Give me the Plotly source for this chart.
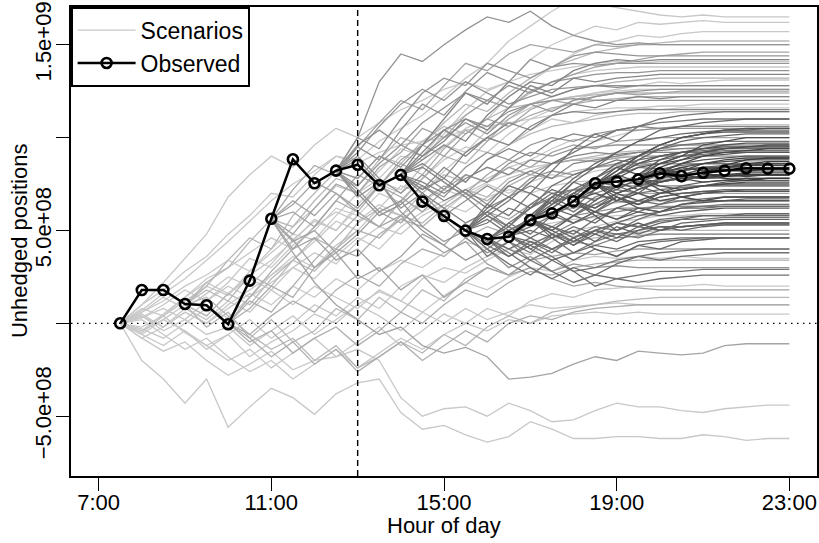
import plotly.graph_objects as go

# ---------------- data ----------------
# time grid: half-hour steps from 7:30 to 23:00
t_first = 7.5
t_step = 0.5

# observed unhedged positions (units of 1e8)
observed = [0.00, 1.79, 1.79, 1.04, 0.97, -0.05, 2.30, 5.63, 8.83, 7.54, 8.22, 8.54,
            7.43, 7.99, 6.55, 5.78, 4.99, 4.54, 4.66, 5.56, 5.92, 6.57, 7.54, 7.63,
            7.75, 8.08, 7.93, 8.11, 8.22, 8.35, 8.33, 8.33]

# scenario paths (units of 1e7), grouped by the hour at which they start
paths_0730 = [
    [0, 10, 18, 28, 36, 48, 58, 70, 68, 80, 90, 88, 98, 105, 112, 122, 132, 140, 152, 160, 168, 175, 172, 170, 168, 166, 165, 166, 165, 165, 165, 165],
    [0, -5, 4, 12, 20, 15, 28, 38, 48, 45, 58, 70, 78, 90, 88, 102, 115, 125, 130, 142, 150, 155, 160, 158, 162, 161, 162, 163, 162, 162, 162, 162],
    [0, 5, -2, 8, 16, 25, 20, 32, 45, 55, 50, 62, 75, 70, 85, 95, 105, 110, 122, 130, 138, 145, 150, 152, 155, 154, 156, 157, 157, 157, 157, 157],
    [0, 3, 10, 18, 12, 22, 35, 30, 42, 50, 62, 58, 70, 65, 78, 88, 95, 92, 102, 110, 115, 120, 124, 126, 128, 130, 129, 130, 131, 131, 131, 131],
    [0, -3, -8, 0, 8, 3, 14, 22, 30, 24, 36, 46, 40, 52, 60, 66, 72, 78, 84, 88, 94, 99, 98, 101, 104, 105, 106, 106, 107, 107, 107, 107],
    [0, -2, 4, -5, -12, -6, -18, -10, -4, 5, 0, 10, 17, 12, 24, 30, 27, 34, 40, 37, 44, 50, 52, 55, 56, 58, 58, 59, 59, 59, 59, 59],
    [0, -20, -30, -43, -30, -56, -45, -35, -40, -49, -38, -32, -30, -48, -57, -55, -60, -64, -61, -53, -57, -62, -62, -61, -61, -62, -62, -60, -61, -63, -62, -62],
    [0, -8, -15, -10, -20, -28, -22, -15, -25, -20, -18, -14, -20, -40, -50, -46, -45, -50, -43, -47, -53, -52, -47, -43, -45, -45, -47, -48, -46, -45, -44, -44],
    [0, 6, 14, 8, 2, 12, 6, 18, 10, 20, 14, 8, 18, 12, 6, 15, 22, 18, 25, 30, 28, 34, 36, 35, 36, 35, 36, 35, 35, 35, 35, 35],
    [0, -6, 2, -4, -12, -20, -14, -24, -16, -8, -18, -10, -2, -12, -4, 5, 0, 8, 4, 12, 16, 14, 18, 19, 20, 20, 20, 21, 20, 20, 20, 20],
    [0, 4, -4, 2, -6, -2, -12, -4, 4, -6, 2, 10, 4, -4, 6, 0, 8, 2, 6, 10, 8, 9, 10, 11, 10, 10, 10, 10, 10, 10, 10, 10],
    [0, 7, 16, 24, 34, 44, 55, 66, 75, 82, 90, 86, 92, 96, 98, 100, 104, 106, 108, 110, 112, 114, 115, 116, 116, 117, 117, 118, 118, 118, 118, 118],
    [0, -4, 5, 14, 24, 30, 38, 46, 40, 52, 60, 55, 64, 58, 66, 72, 68, 75, 70, 76, 80, 78, 82, 84, 85, 86, 86, 86, 87, 87, 87, 87],
    [0, 2, -6, -14, -8, -18, -26, -20, -30, -22, -14, -24, -16, -8, -14, -6, 0, -4, 2, 0, 4, 5, 6, 5, 6, 5, 5, 5, 5, 5, 5, 5],
    [0, -8, -2, 6, 0, 10, 18, 26, 34, 44, 55, 50, 62, 74, 70, 82, 92, 100, 96, 104, 110, 108, 112, 114, 116, 115, 116, 116, 116, 116, 116, 116],
    [0, 10, 22, 35, 48, 68, 80, 90, 84, 96, 105, 100, 108, 115, 120, 126, 130, 126, 130, 134, 136, 138, 140, 141, 140, 141, 141, 141, 141, 141, 141, 141],
    [0, 6, 12, 20, 26, 34, 28, 40, 52, 62, 74, 70, 82, 94, 90, 104, 112, 120, 116, 124, 130, 134, 136, 137, 138, 138, 138, 138, 138, 138, 138, 138],
    [0, -4, 2, 10, 4, 16, 24, 18, 30, 38, 32, 44, 52, 48, 58, 64, 60, 68, 72, 70, 74, 76, 77, 78, 78, 78, 78, 78, 78, 78, 78, 78],
    [0, 3, 8, 2, 12, 20, 14, 26, 36, 30, 42, 50, 46, 56, 64, 60, 70, 76, 80, 84, 86, 88, 89, 90, 90, 90, 90, 90, 90, 90, 90, 90],
    [0, -6, -12, -4, -14, -6, 2, -8, 0, 10, 4, 14, 8, 20, 26, 22, 30, 36, 40, 44, 46, 47, 48, 48, 48, 48, 48, 48, 48, 48, 48, 48],
    [0, 8, 4, 14, 22, 16, 26, 34, 44, 56, 50, 64, 76, 72, 84, 96, 92, 104, 110, 116, 120, 122, 124, 125, 126, 126, 126, 126, 126, 126, 126, 126],
    [0, 4, -2, 6, 0, 8, 16, 10, 20, 14, 24, 18, 28, 34, 30, 38, 44, 40, 48, 52, 54, 56, 57, 58, 58, 58, 58, 58, 58, 58, 58, 58],
]
paths_0900 = [
    [10, 22, 30, 44, 56, 52, 66, 78, 74, 88, 100, 96, 108, 118, 114, 124, 132, 138, 142, 146, 148, 150, 151, 152, 152, 152, 152, 152, 152],
    [10, 4, 16, 10, 24, 34, 28, 40, 50, 46, 58, 54, 64, 72, 68, 78, 82, 86, 88, 90, 92, 93, 94, 94, 95, 95, 95, 95, 95],
    [10, -2, 6, -8, 2, -10, -4, 8, 2, 14, 6, 18, 12, 24, 30, 26, 34, 40, 44, 46, 48, 49, 50, 50, 50, 50, 50, 50, 50],
    [10, 18, 12, 26, 20, 34, 46, 40, 54, 62, 58, 70, 80, 76, 88, 96, 102, 106, 108, 110, 112, 113, 113, 114, 114, 114, 114, 114, 114],
    [10, 14, 4, -6, -14, -8, -20, -12, -24, -18, -10, -16, -6, -12, -2, 4, 0, 6, 8, 10, 12, 13, 14, 14, 14, 14, 14, 14, 14],
    [10, 20, 34, 46, 40, 58, 70, 82, 78, 90, 86, 98, 106, 102, 110, 116, 118, 120, 122, 123, 124, 124, 124, 124, 124, 124, 124, 124, 124],
]
paths_1000 = [
    [0, 14, 28, 40, 52, 66, 60, 74, 86, 80, 94, 104, 98, 110, 118, 122, 126, 128, 130, 131, 132, 132, 132, 132, 132, 132, 132],
    [0, -10, -4, -16, -8, -2, -12, -4, 6, 0, 10, 18, 14, 22, 28, 26, 30, 32, 33, 34, 34, 34, 34, 34, 34, 34, 34],
    [0, 8, 20, 14, 30, 40, 36, 48, 56, 52, 62, 70, 66, 74, 80, 78, 82, 84, 85, 86, 86, 86, 86, 86, 86, 86, 86],
    [0, -6, 4, 12, 6, 18, 26, 20, 32, 40, 36, 46, 52, 48, 56, 60, 62, 64, 65, 66, 66, 66, 66, 66, 66, 66, 66],
    [0, 12, 6, 20, 34, 46, 58, 52, 66, 78, 90, 86, 98, 106, 112, 116, 118, 120, 121, 122, 122, 122, 122, 122, 122, 122, 122],
    [0, -8, -18, -10, -22, -14, -26, -18, -10, -20, -12, -4, -10, 0, 4, 2, 6, 8, 9, 10, 10, 10, 10, 10, 10, 10, 10],
]
paths_1100 = [
    [56, 72, 85, 80, 95, 108, 120, 115, 128, 140, 136, 145, 150, 148, 146, 150, 149, 150, 150, 150, 150, 150, 150, 150, 150],
    [56, 48, 62, 75, 70, 84, 92, 105, 100, 112, 120, 116, 125, 130, 134, 138, 140, 142, 144, 145, 146, 146, 146, 146, 146],
    [56, 60, 52, 66, 80, 74, 88, 96, 90, 102, 110, 106, 115, 120, 118, 122, 124, 123, 124, 125, 125, 125, 125, 125, 125],
    [56, 44, 50, 38, 48, 60, 54, 66, 74, 70, 80, 88, 84, 92, 96, 94, 98, 99, 100, 100, 100, 100, 100, 100, 100],
    [56, 66, 58, 70, 62, 74, 68, 60, 72, 80, 76, 84, 80, 86, 88, 87, 89, 90, 90, 90, 90, 90, 90, 90, 90],
    [56, 40, 46, 34, 40, 28, 36, 48, 42, 54, 60, 56, 64, 66, 68, 67, 69, 70, 70, 70, 70, 70, 70, 70, 70],
    [56, 45, 30, 38, 24, 30, 18, 26, 14, 22, 30, 26, 34, 36, 38, 37, 39, 40, 40, 40, 40, 40, 40, 40, 40],
    [56, 38, 22, 10, 2, -6, -2, -12, -16, -13, -18, -30, -29, -27, -22, -18, -20, -15, -16, -17, -16, -12, -11, -11, -11],
    [56, 64, 76, 70, 60, 52, 58, 46, 38, 44, 32, 26, 30, 24, 20, 22, 20, 19, 18, 18, 18, 18, 18, 18, 18],
]
paths_1230 = [
    [82, 100, 130, 145, 141, 150, 158, 165, 162, 168, 160, 155, 152, 150, 151, 150, 150, 150, 150, 150, 150, 150],
    [82, 95, 88, 104, 118, 112, 125, 135, 130, 142, 138, 144, 146, 145, 144, 144, 144, 144, 144, 144, 144, 144],
    [82, 74, 86, 96, 90, 100, 108, 102, 112, 118, 114, 120, 122, 124, 125, 126, 126, 126, 126, 126, 126, 126],
    [82, 90, 78, 70, 80, 72, 84, 92, 88, 96, 100, 98, 102, 104, 104, 105, 105, 105, 105, 105, 105, 105],
    [82, 68, 76, 62, 70, 58, 66, 74, 68, 78, 82, 80, 84, 86, 85, 86, 86, 86, 86, 86, 86, 86],
    [82, 72, 60, 66, 52, 44, 50, 40, 48, 56, 52, 58, 60, 62, 62, 63, 63, 63, 63, 63, 63, 63],
    [82, 88, 76, 60, 50, 42, 34, 40, 30, 36, 28, 32, 30, 31, 30, 30, 30, 30, 30, 30, 30, 30],
    [82, 96, 104, 96, 108, 116, 124, 120, 128, 124, 130, 132, 134, 135, 135, 136, 136, 136, 136, 136, 136, 136],
    [82, 100, 94, 110, 124, 132, 128, 140, 136, 132, 138, 140, 139, 140, 140, 140, 140, 140, 140, 140, 140, 140],
    [82, 92, 106, 118, 126, 120, 130, 124, 118, 122, 126, 127, 128, 128, 128, 128, 128, 128, 128, 128, 128, 128],
    [82, 78, 90, 84, 96, 104, 110, 106, 114, 118, 120, 121, 120, 120, 120, 120, 120, 120, 120, 120, 120, 120],
    [82, 70, 58, 64, 74, 68, 80, 76, 86, 92, 90, 94, 95, 96, 96, 96, 96, 96, 96, 96, 96, 96],
]
paths_1400 = [
    [80, 92, 104, 98, 112, 122, 130, 128, 136, 140, 142, 141, 142, 142, 142, 142, 142, 142, 142],
    [80, 86, 78, 92, 100, 96, 106, 112, 118, 116, 120, 122, 121, 122, 122, 122, 122, 122, 122],
    [80, 72, 84, 76, 88, 94, 90, 98, 102, 100, 104, 106, 105, 106, 106, 106, 106, 106, 106],
    [80, 74, 66, 72, 64, 76, 82, 78, 86, 88, 90, 92, 93, 94, 94, 94, 94, 94, 94],
    [80, 70, 62, 54, 60, 52, 62, 68, 72, 70, 74, 76, 77, 78, 78, 78, 78, 78, 78],
    [80, 84, 76, 68, 58, 50, 56, 48, 54, 58, 60, 62, 62, 63, 63, 63, 63, 63, 63],
    [80, 66, 56, 46, 38, 44, 34, 40, 44, 42, 46, 47, 48, 48, 48, 48, 48, 48, 48],
    [80, 90, 98, 110, 104, 116, 128, 124, 132, 130, 132, 133, 134, 134, 134, 134, 134, 134, 134],
    [80, 96, 110, 124, 118, 130, 126, 122, 126, 128, 127, 128, 128, 128, 128, 128, 128, 128, 128],
    [80, 88, 96, 90, 100, 108, 104, 112, 114, 113, 114, 115, 115, 115, 115, 115, 115, 115, 115],
    [80, 76, 70, 78, 84, 80, 88, 86, 90, 92, 91, 92, 92, 92, 92, 92, 92, 92, 92],
    [80, 72, 78, 70, 62, 68, 74, 70, 72, 73, 74, 74, 74, 74, 74, 74, 74, 74, 74],
]
paths_1530 = [
    [50, 62, 74, 70, 82, 94, 102, 98, 106, 110, 112, 113, 114, 114, 114, 114],
    [50, 58, 52, 64, 72, 68, 78, 86, 90, 94, 96, 97, 98, 98, 98, 98],
    [50, 44, 54, 48, 58, 66, 62, 70, 74, 76, 78, 79, 80, 80, 80, 80],
    [50, 42, 36, 44, 38, 46, 52, 50, 56, 60, 62, 63, 64, 64, 64, 64],
    [50, 56, 48, 40, 46, 38, 44, 48, 46, 50, 52, 53, 54, 54, 54, 54],
    [50, 40, 32, 26, 34, 28, 30, 34, 36, 38, 39, 40, 40, 40, 40, 40],
    [50, 60, 68, 62, 74, 80, 84, 88, 86, 90, 92, 92, 93, 93, 93, 93],
    [50, 46, 40, 34, 28, 22, 26, 24, 26, 28, 28, 29, 29, 29, 29, 29],
    [50, 54, 62, 58, 66, 60, 68, 72, 70, 72, 73, 74, 74, 74, 74, 74],
    [50, 64, 58, 70, 64, 76, 72, 80, 84, 83, 85, 86, 86, 86, 86, 86],
    [50, 36, 44, 38, 48, 42, 50, 54, 52, 55, 56, 56, 57, 57, 57, 57],
    [50, 58, 66, 76, 86, 92, 98, 104, 106, 108, 109, 110, 110, 110, 110, 110],
]
paths_1600 = [
    [45, 38, 30, 24, 30, 26, 32, 36, 34, 36, 37, 38, 38, 38, 38],
    [45, 52, 46, 40, 34, 40, 36, 42, 44, 45, 46, 46, 46, 46, 46],
    [45, 40, 46, 52, 48, 56, 62, 60, 64, 66, 67, 68, 68, 68, 68],
    [45, 54, 62, 70, 66, 74, 80, 86, 88, 90, 91, 92, 92, 92, 92],
    [45, 36, 42, 36, 28, 20, 24, 22, 24, 25, 26, 26, 26, 26, 26],
    [45, 50, 56, 62, 70, 76, 74, 80, 82, 83, 84, 84, 84, 84, 84],
]
paths_1630 = [
    [47, 56, 64, 72, 78, 84, 88, 90, 92, 93, 94, 94, 94, 94],
    [47, 52, 58, 54, 60, 66, 64, 68, 70, 71, 72, 72, 72, 72],
    [47, 42, 48, 44, 50, 54, 52, 56, 57, 58, 58, 58, 58, 58],
    [47, 40, 34, 38, 42, 40, 44, 45, 46, 46, 46, 46, 46, 46],
    [47, 54, 50, 58, 64, 70, 74, 78, 80, 81, 82, 82, 82, 82],
    [47, 50, 46, 52, 48, 54, 58, 60, 62, 62, 63, 63, 63, 63],
    [47, 58, 68, 78, 86, 92, 98, 100, 102, 103, 104, 104, 104, 104],
    [47, 44, 40, 46, 50, 48, 50, 52, 52, 53, 53, 53, 53, 53],
]
paths_1700 = [
    [56, 66, 76, 84, 92, 98, 104, 106, 108, 109, 110, 110, 110],
    [56, 62, 58, 66, 74, 70, 78, 82, 84, 85, 86, 86, 86],
    [56, 50, 58, 54, 62, 66, 64, 68, 70, 71, 72, 72, 72],
    [56, 48, 42, 48, 44, 50, 54, 56, 58, 58, 59, 59, 59],
    [56, 52, 46, 40, 36, 42, 40, 44, 45, 46, 46, 46, 46],
    [56, 64, 70, 66, 74, 80, 86, 90, 92, 94, 95, 95, 95],
    [56, 58, 64, 60, 68, 64, 70, 74, 76, 77, 77, 78, 78],
    [56, 46, 50, 44, 52, 48, 52, 50, 52, 53, 53, 53, 53],
    [56, 68, 62, 72, 80, 88, 94, 98, 100, 101, 102, 102, 102],
    [56, 60, 54, 60, 56, 62, 60, 64, 66, 66, 67, 67, 67],
    [56, 62, 70, 78, 86, 90, 96, 100, 102, 104, 104, 105, 105],
    [56, 50, 44, 50, 46, 52, 50, 54, 55, 56, 56, 56, 56],
]
paths_1800 = [
    [66, 72, 80, 86, 90, 92, 94, 95, 95, 95, 95],
    [66, 60, 56, 60, 58, 60, 61, 62, 62, 62, 62],
    [66, 70, 66, 72, 76, 78, 79, 80, 80, 80, 80],
    [66, 62, 68, 64, 68, 70, 71, 71, 71, 71, 71],
    [66, 74, 82, 90, 96, 100, 102, 103, 103, 103, 103],
    [66, 58, 50, 54, 50, 52, 53, 54, 54, 54, 54],
]
paths_1830 = [
    [75, 82, 90, 96, 100, 102, 104, 105, 105, 105],
    [75, 72, 78, 82, 86, 88, 89, 90, 90, 90],
    [75, 70, 66, 70, 72, 74, 75, 75, 75, 75],
    [75, 80, 76, 80, 82, 84, 84, 85, 85, 85],
    [75, 68, 62, 60, 64, 65, 66, 66, 66, 66],
    [75, 84, 80, 88, 92, 94, 96, 97, 97, 97],
    [75, 76, 72, 76, 78, 79, 80, 80, 80, 80],
    [75, 66, 70, 66, 68, 70, 71, 71, 71, 71],
    [75, 78, 84, 86, 88, 90, 91, 92, 92, 92],
    [75, 70, 74, 70, 72, 74, 76, 77, 77, 77],
]
paths_1930 = [
    [78, 84, 88, 92, 94, 95, 96, 96],
    [78, 74, 72, 74, 75, 76, 76, 76],
    [78, 82, 80, 83, 84, 85, 85, 85],
    [78, 76, 79, 78, 79, 80, 80, 80],
    [78, 86, 90, 96, 98, 100, 100, 100],
    [78, 72, 68, 66, 68, 68, 68, 68],
    [78, 80, 84, 86, 87, 88, 88, 88],
]
paths_2000 = [
    [81, 86, 90, 92, 93, 94, 94],
    [81, 78, 76, 77, 78, 78, 78],
    [81, 84, 82, 84, 85, 86, 86],
    [81, 76, 80, 80, 81, 81, 81],
    [81, 82, 86, 88, 89, 89, 89],
    [81, 80, 78, 80, 79, 80, 80],
]
paths_2100 = [
    [81, 84, 86, 87, 87],
    [81, 79, 80, 80, 80],
    [81, 83, 82, 83, 83],
    [81, 78, 77, 78, 78],
    [81, 85, 88, 89, 89],
]

group_starts = [7.5, 9.0, 10.0, 11.0, 12.5, 14.0, 15.5, 16.0, 16.5, 17.0, 18.0, 18.5,
                19.5, 20.0, 21.0]
group_paths = [paths_0730, paths_0900, paths_1000, paths_1100, paths_1230, paths_1400,
               paths_1530, paths_1600, paths_1630, paths_1700, paths_1800, paths_1830,
               paths_1930, paths_2000, paths_2100]

x_tick_vals = [7, 11, 15, 19, 23]
x_tick_text = ["7:00", "11:00", "15:00", "19:00", "23:00"]
y_tick_vals = [-5e8, 0, 5e8, 1e9, 1.5e9]
y_tick_text = ["\u22125.0e+08", "", "5.0e+08", "", "1.5e+09"]
forecast_hour = 13.0

# ---------------- figure ----------------
FONT = "Liberation Sans, Arial, Helvetica, sans-serif"
fig = go.Figure()


def grey_for(start):
    frac = (start - group_starts[0]) / (group_starts[-1] - group_starts[0])
    g = int(round(200 - frac * 140))
    return f"rgb({g},{g},{g})"


first = True
for start, paths in zip(group_starts, group_paths):
    col = grey_for(start)
    for p in paths:
        xs = [start + t_step * i for i in range(len(p))]
        ys = [v * 1e7 for v in p]
        fig.add_trace(go.Scatter(
            x=xs, y=ys, mode="lines",
            line=dict(color=col, width=1.3),
            name="Scenarios", legendgroup="scen",
            showlegend=first, hoverinfo="skip"))
        first = False

obs_x = [t_first + t_step * i for i in range(len(observed))]
obs_y = [v * 1e8 for v in observed]
fig.add_trace(go.Scatter(
    x=obs_x, y=obs_y, mode="lines+markers", name="Observed",
    line=dict(color="black", width=2.5),
    marker=dict(symbol="circle-open", size=10, color="black",
                line=dict(width=2.6, color="black"))))

fig.add_shape(type="line", xref="x", yref="paper", x0=forecast_hour, x1=forecast_hour,
              y0=0, y1=1, line=dict(color="black", width=1.4, dash="6px,4px"), layer="above")
fig.add_shape(type="line", xref="paper", yref="y", x0=0, x1=1, y0=0, y1=0,
              line=dict(color="black", width=1.3, dash="1.5px,4.5px"), layer="above")

axis_common = dict(showline=True, linecolor="black", linewidth=1.6, mirror=True,
                   ticks="outside", ticklen=13, tickwidth=1.4, tickcolor="black",
                   showgrid=False, zeroline=False, automargin=False,
                   tickfont=dict(family=FONT, size=22, color="black"))

fig.update_layout(
    width=819, height=543,
    margin=dict(l=71, r=2, t=7, b=67, pad=0),
    paper_bgcolor="white", plot_bgcolor="white",
    font=dict(family=FONT, size=22, color="black"),
    xaxis=dict(range=[6.36, 23.64], tickvals=x_tick_vals, ticktext=x_tick_text,
               ticklabelstandoff=-7, **axis_common),
    yaxis=dict(range=[-8.22e8, 1.703e9], tickvals=y_tick_vals, ticktext=y_tick_text,
               tickangle=-90, ticklabelstandoff=-4, **axis_common),
    legend=dict(x=0, y=1, xanchor="left", yanchor="top", bgcolor="white",
                bordercolor="black", borderwidth=1.6,
                font=dict(family=FONT, size=23, color="black"),
                itemwidth=58, tracegroupgap=0),
    showlegend=True,
    annotations=[
        dict(text="Hour of day", xref="paper", yref="paper", x=0.5, y=-0.1066,
             xanchor="center", yanchor="middle", showarrow=False,
             font=dict(family=FONT, size=22, color="black")),
        dict(text="Unhedged positions", xref="paper", yref="paper", x=-0.069, y=0.5,
             xanchor="center", yanchor="middle", textangle=-90, showarrow=False,
             font=dict(family=FONT, size=22, color="black")),
    ],
)

fig.write_html("out.html", config={"displayModeBar": False},
               post_script="document.body.style.margin='0px';")
